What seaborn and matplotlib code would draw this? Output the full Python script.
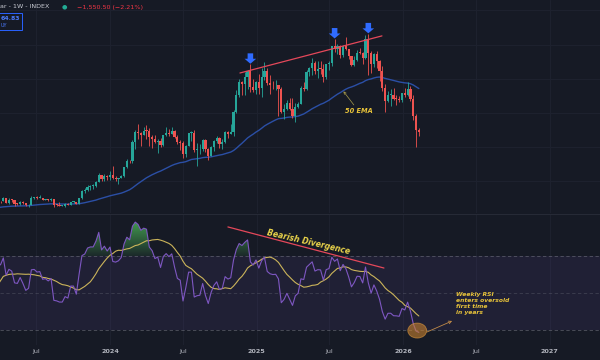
import numpy as np
import pandas as pd
import matplotlib
matplotlib.use("Agg")
import matplotlib.pyplot as plt
import matplotlib.dates as mdates
from matplotlib.patches import Ellipse, FancyBboxPatch
from matplotlib.path import Path
import seaborn as sns

# ---------------- data (weekly, prices in thousands USD) ----------------
warmup_start = "2022-01-03"
warmup_close = [41.8, 43.1, 36.3, 38.2, 42.4, 42.2, 38.4, 37.7, 38.9, 37.8, 41.3, 46.8, 46.4,
                42.2, 40.4, 39.5, 37.7, 34.3, 31.3, 29.4, 29.4, 29.9, 26.6, 20.6, 21.0, 19.3,
                20.8, 20.8, 22.6, 23.6, 23.2, 24.4, 21.5, 20.0, 19.8, 21.8, 19.4, 18.9, 19.3,
                19.4, 19.2, 19.6, 20.6, 21.3, 16.3, 16.7, 16.5, 17.1, 17.1, 16.8, 16.8, 16.6,
                17.1, 20.9, 22.7, 23.7, 22.9, 21.8, 24.6, 23.5, 22.4, 22.1, 28.0, 27.9, 28.5]

week_start = "2023-04-03"
close = [28.3, 30.3, 27.6, 29.2, 28.9, 26.9, 26.8, 28.1, 27.1, 25.9, 26.3, 30.5, 30.6, 30.2, 30.3,
         29.2, 29.3, 29.0, 29.4, 26.1, 26.0, 25.8, 25.8, 26.5, 26.3, 27.9, 27.9, 26.9, 30.0, 34.5,
         35.0, 37.0, 37.4, 37.4, 39.5, 43.8, 41.4, 43.0, 42.3,
         43.9, 41.7, 41.6, 42.0, 43.0, 48.3, 52.1, 51.7, 63.1, 68.9, 68.4, 67.2, 69.6, 69.4, 65.7,
         64.9, 63.1, 63.9, 61.5, 66.9, 68.5, 67.8, 69.3, 66.2, 63.2, 62.7, 55.9, 60.8, 68.2, 68.2,
         58.1, 58.7, 58.9, 64.2, 58.9, 54.8, 59.9, 63.6, 65.6, 62.1, 62.8, 69.0, 68.0, 68.7, 80.4,
         90.6, 98.0, 97.2, 101.2, 104.5, 95.2, 93.7, 98.3,
         94.5, 101.1, 104.7, 97.7, 96.5, 96.1, 96.3, 94.2, 80.7, 82.6, 86.1, 82.4, 78.4, 83.7, 85.2,
         94.7, 94.3, 104.1, 106.5, 109.0, 104.6, 105.7, 105.6, 100.9, 108.4, 109.2, 119.1, 117.3,
         119.4, 114.2, 119.3, 117.4, 113.5, 108.3, 111.1, 115.3, 115.2, 112.2, 123.5, 115.1, 108.6,
         114.5, 110.5, 104.7, 94.4, 86.8, 90.4, 90.4, 88.2, 88.1, 87.7, 91.5,
         90.5, 94.3, 88.4, 78.0, 70.2, 68.6]
high = [28.8, 31.0, 30.5, 30.0, 29.8, 29.0, 27.6, 28.3, 28.4, 27.3, 26.8, 31.4, 31.0, 31.5, 31.8,
        30.4, 29.8, 29.7, 30.2, 29.7, 26.9, 28.1, 26.4, 27.3, 27.4, 28.0, 28.6, 27.9, 30.4, 35.2,
        35.9, 38.0, 37.9, 38.4, 40.2, 44.7, 44.0, 44.3, 43.8,
        45.9, 49.0, 43.2, 42.2, 43.9, 48.6, 52.8, 52.5, 64.0, 69.9, 73.8, 68.9, 71.8, 72.7, 71.3,
        66.9, 67.2, 64.7, 65.5, 67.4, 71.9, 70.6, 71.9, 70.2, 66.9, 64.0, 63.8, 61.4, 68.4, 69.4,
        70.0, 62.7, 61.6, 65.0, 64.5, 59.8, 60.6, 64.1, 66.5, 66.1, 64.5, 69.5, 69.5, 73.6, 81.5,
        93.5, 99.6, 98.7, 104.1, 105.2, 108.4, 99.9, 98.9,
        102.7, 106.3, 109.6, 106.4, 102.5, 98.8, 99.5, 96.5, 95.0, 85.3, 87.5, 88.7, 88.5, 86.1,
        86.4, 95.8, 97.9, 104.9, 107.1, 111.9, 110.7, 110.5, 110.4, 108.9, 108.5, 110.5, 119.4,
        123.2, 120.2, 120.0, 119.5, 124.5, 117.6, 113.5, 113.4, 116.8, 117.9, 115.4, 125.7, 126.2,
        116.0, 114.9, 116.4, 110.8, 107.5, 96.7, 93.1, 94.1, 94.6, 90.4, 90.0, 91.9,
        94.8, 97.9, 95.5, 90.4, 79.3, 71.5]
low = [27.2, 28.3, 27.1, 26.9, 27.7, 25.8, 26.1, 26.1, 26.5, 25.4, 24.8, 26.3, 29.5, 29.7, 30.0,
       29.0, 28.9, 28.7, 28.8, 25.2, 25.8, 25.4, 25.4, 24.9, 26.0, 26.0, 27.2, 26.6, 26.9, 29.9,
       33.4, 34.5, 34.8, 35.6, 37.0, 39.5, 40.2, 40.5, 41.0,
       40.8, 41.5, 40.3, 38.5, 41.8, 42.3, 47.7, 50.6, 50.9, 59.0, 64.7, 60.8, 66.9, 64.5, 60.7,
       59.6, 62.4, 56.6, 60.2, 60.8, 66.3, 66.7, 67.6, 65.1, 62.0, 58.4, 53.5, 54.3, 60.6, 63.5,
       57.3, 49.1, 56.1, 57.9, 57.2, 52.6, 54.6, 57.6, 62.6, 59.8, 58.9, 62.4, 65.1, 67.8, 66.8,
       80.1, 89.4, 90.8, 90.5, 94.2, 92.2, 92.5, 91.3,
       91.2, 89.3, 99.5, 96.5, 91.2, 94.1, 93.4, 78.2, 80.0, 76.6, 82.0, 81.6, 77.1, 74.5, 83.0,
       85.1, 92.8, 93.4, 101.4, 102.1, 103.1, 100.4, 102.7, 98.2, 99.6, 105.1, 107.4, 115.7,
       114.7, 112.0, 112.6, 116.8, 111.7, 107.3, 107.3, 110.6, 114.4, 108.6, 111.6, 102.0, 103.5,
       106.7, 106.3, 99.0, 93.0, 80.6, 86.2, 83.9, 87.6, 84.4, 86.6, 86.6,
       89.2, 89.9, 87.3, 75.7, 60.0, 66.5]

tick_dates = ["2023-07-01", "2024-01-01", "2024-07-01", "2025-01-01",
              "2025-07-01", "2026-01-01", "2026-07-01", "2027-01-01"]
tick_labels = ["Jul", "2024", "Jul", "2025", "Jul", "2026", "Jul", "2027"]

# annotations drawn on the chart
peak_dates = ["2024-12-16", "2025-07-14", "2025-10-06"]
resist_dates = ["2024-11-20", "2025-11-09"]
resist_prices = [103.4, 125.1]
ema_arrow_week = "2025-08-04"
div_dates = ["2024-10-21", "2025-11-14"]
div_rsi = [85.7, 63.5]
oversold_date = "2026-02-05"
oversold_rsi = 29.7

header = "ar - 1W - INDEX"
change_txt = "\u22121,550.50 (\u22122.21%)"

ema_span, rsi_len, rsi_ma_len = 50, 14, 14

# ---------------- computations ----------------
K = 1000.0
wc = np.array(warmup_close) * K
c = np.array(close) * K
h = np.array(high) * K
l = np.array(low) * K
o = np.concatenate([[wc[-1]], c[:-1]])
all_close = np.concatenate([wc, c])
all_dates = pd.date_range(warmup_start, periods=len(all_close), freq="7D")
dates = pd.date_range(week_start, periods=len(c), freq="7D")
xa = mdates.date2num(all_dates)
xn = mdates.date2num(dates)

s = pd.Series(all_close)
ema = s.ewm(span=ema_span, adjust=False).mean().values
d = s.diff().fillna(0)
ag = d.clip(lower=0).ewm(alpha=1 / rsi_len, adjust=False).mean()
al = (-d.clip(upper=0)).ewm(alpha=1 / rsi_len, adjust=False).mean()
rsi = (100 - 100 / (1 + ag / al)).values
rsi_ma = pd.Series(rsi).rolling(rsi_ma_len).mean().values


def dn(sd):
    return mdates.date2num(pd.Timestamp(sd))


# ---------------- style ----------------
bg = "#161a25"
grid_c = "#1d212e"
sns.set_style("dark", {"axes.facecolor": bg, "figure.facecolor": bg})
plt.rcParams["font.family"] = ["DejaVu Sans"]

fig = plt.figure(figsize=(6, 3.6), dpi=100)
fig.patch.set_facecolor(bg)
W, H = 600.0, 360.0
ax = fig.add_axes([0, 1 - 213 / H, 1, 213 / H])
ax2 = fig.add_axes([0, 15 / H, 1, 131 / H])

x0 = dn("2024-01-01") - 110 / 146.5 * 365.25
x1 = x0 + W / 146.5 * 365.25

for a in (ax, ax2):
    a.set_facecolor(bg)
    for sp in a.spines.values():
        sp.set_visible(False)
    for td in tick_dates:
        a.axvline(dn(td), color=grid_c, lw=0.8, zorder=0)

for pv in [40, 60, 80, 100, 120, 140]:
    ax.axhline(pv * K, color=grid_c, lw=0.8, zorder=0)

# ---------------- candles ----------------
up_c, dn_c = "#26a69a", "#ef5350"
cols = np.where(c >= o, up_c, dn_c)
ax.vlines(xn, l, h, colors=cols, lw=0.6, zorder=3)
body = np.maximum(np.abs(c - o), 500)
ax.bar(xn, body, bottom=np.minimum(o, c), width=5.4, color=cols, linewidth=0, zorder=4)

sns.lineplot(x=xa, y=ema, ax=ax, color="#2b4fa6", lw=1.0, legend=False, zorder=2)

ax.set_xlim(x0, x1)
ax.set_ylim(21500, 146100)
ax.set_xticks([])
ax.set_yticks([])
ax.set_xlabel("")
ax.set_ylabel("")

# peak arrows
for pdt in peak_dates:
    i = int(np.where(dates == pd.Timestamp(pdt))[0][0])
    ax.annotate("", xy=(xn[i], h[i]), xytext=(0, 8.0), textcoords="offset points",
                arrowprops=dict(arrowstyle="simple,head_length=0.45,head_width=1.05,tail_width=0.5",
                                fc="#2f6bff", ec="none", shrinkA=0, shrinkB=0.5,
                                mutation_scale=8), zorder=6)

ax.plot([dn(t) for t in resist_dates], np.array(resist_prices) * K,
        color="#e5485a", lw=0.9, zorder=5)

ie = int(np.where(dates == pd.Timestamp(ema_arrow_week))[0][0]) + len(wc)
ax.annotate("", xy=(xa[ie], ema[ie]), xytext=(dn("2025-08-31"), 84.7 * K),
            arrowprops=dict(arrowstyle="->", color="#a89c4c", lw=0.5, mutation_scale=4,
                            shrinkA=0, shrinkB=0.5))
ax.text(dn("2025-09-12"), 81.0 * K, "50 EMA", color="#e8c33a", fontsize=4.8,
        style="italic", weight="bold", ha="center", va="center")

# ---------------- RSI pane ----------------
ax2.axhspan(30, 70, color="#7e57c2", alpha=0.1, lw=0, zorder=0)
for lv, al_ in [(70, 0.6), (50, 0.35), (30, 0.6)]:
    ax2.axhline(lv, color="#787b86", ls=(0, (4, 3)), lw=0.6, alpha=al_, zorder=1)


def grad_fill(axx, x, y, base, far, rgb, where):
    coll = axx.fill_between(x, base, y, where=where, interpolate=True,
                            facecolor="none", edgecolor="none")
    paths = coll.get_paths()
    if not paths:
        return
    path = Path.make_compound_path(*paths)
    n = 64
    img = np.zeros((n, 1, 4))
    img[..., :3] = rgb
    lo, hi = min(base, far), max(base, far)
    if far > base:
        img[:, 0, 3] = np.linspace(0.12, 0.95, n)
    else:
        img[:, 0, 3] = np.linspace(0.95, 0.12, n)
    im = axx.imshow(img, extent=[x.min(), x.max(), lo, hi], origin="lower",
                    aspect="auto", zorder=2, interpolation="bilinear")
    im.set_clip_path(path, axx.transData)


valid = ~np.isnan(rsi)
grad_fill(ax2, xa, rsi, 70, 88, (0.27, 0.62, 0.32), valid & (rsi >= 70))
grad_fill(ax2, xa, rsi, 30, 15, (0.9, 0.3, 0.3), valid & (rsi <= 30))

sns.lineplot(x=xa, y=rsi_ma, ax=ax2, color="#cbb45a", lw=0.8, legend=False, zorder=3)
sns.lineplot(x=xa, y=rsi, ax=ax2, color="#7e57c2", lw=0.8, legend=False, zorder=4)

ax2.plot([dn(t) for t in div_dates], div_rsi, color="#e5485a", lw=0.9, zorder=5)
ax2.text(dn("2025-05-09"), 77.6, "Bearish Divergence", rotation=-13, rotation_mode="anchor",
         ha="center", va="center", color="#e8d24a", fontsize=5.6, weight="bold",
         style="italic", zorder=6)

ax2.add_patch(Ellipse((dn(oversold_date), oversold_rsi), width=47, height=8.1,
                      facecolor="#c8802e", alpha=0.6, edgecolor="#e8a040", lw=0.6, zorder=6))
ax2.annotate("", xy=(dn("2026-05-03"), 34.9), xytext=(dn("2026-03-01"), 28.9),
             arrowprops=dict(arrowstyle="->", color="#c08a48", lw=0.6, mutation_scale=5,
                             shrinkA=0, shrinkB=0), zorder=6)
ax2.text(dn("2026-05-13"), 50.3, "Weekly RSI\nenters oversold\nfirst time\nin years",
         color="#e8c33a", fontsize=4.3, weight="bold", style="italic", va="top",
         ha="left", linespacing=1.25, zorder=6)

ax2.set_xlim(x0, x1)
ax2.set_ylim(21.9, 92.7)
ax2.set_yticks([])
ax2.set_xlabel("")
ax2.set_ylabel("")
ax2.set_xticks([dn(t) for t in tick_dates])
ax2.set_xticklabels(tick_labels)
ax2.tick_params(axis="x", length=0, pad=3, colors="#b2b5be", labelsize=4.6)
for t in ax2.get_xticklabels():
    if t.get_text().isdigit():
        t.set_fontweight("bold")

# pane separator
fig.add_artist(plt.Line2D([0, 1], [1 - 213.5 / H, 1 - 213.5 / H], color="#262a36",
                          lw=0.8, transform=fig.transFigure))

# ---------------- header ----------------
fig.text(0.5 / W, 1 - 7 / H, header, color="#c8cad2", fontsize=4.6, va="center", ha="left")
fig.text(64 / W, 1 - 7 / H, "\u25cf", color="#22ab94", fontsize=4.5, va="center", ha="center")
fig.text(77 / W, 1 - 7 / H, change_txt, color="#f23645", fontsize=4.6, va="center", ha="left")
fig.add_artist(FancyBboxPatch((-3 / W, 1 - 30 / H), 25 / W, 17 / H,
                              boxstyle="square,pad=0", transform=fig.transFigure,
                              ec="#2962ff", fc="#161a25", lw=0.7))
fig.text(1 / W, 1 - 18.5 / H, "64.83", color="#4b7bff", fontsize=4.4, weight="bold",
         va="center", ha="left")
fig.text(1 / W, 1 - 25.5 / H, "UY", color="#4b7bff", fontsize=3.6, va="center", ha="left")

fig.savefig("out.png", dpi=100, facecolor=bg)
